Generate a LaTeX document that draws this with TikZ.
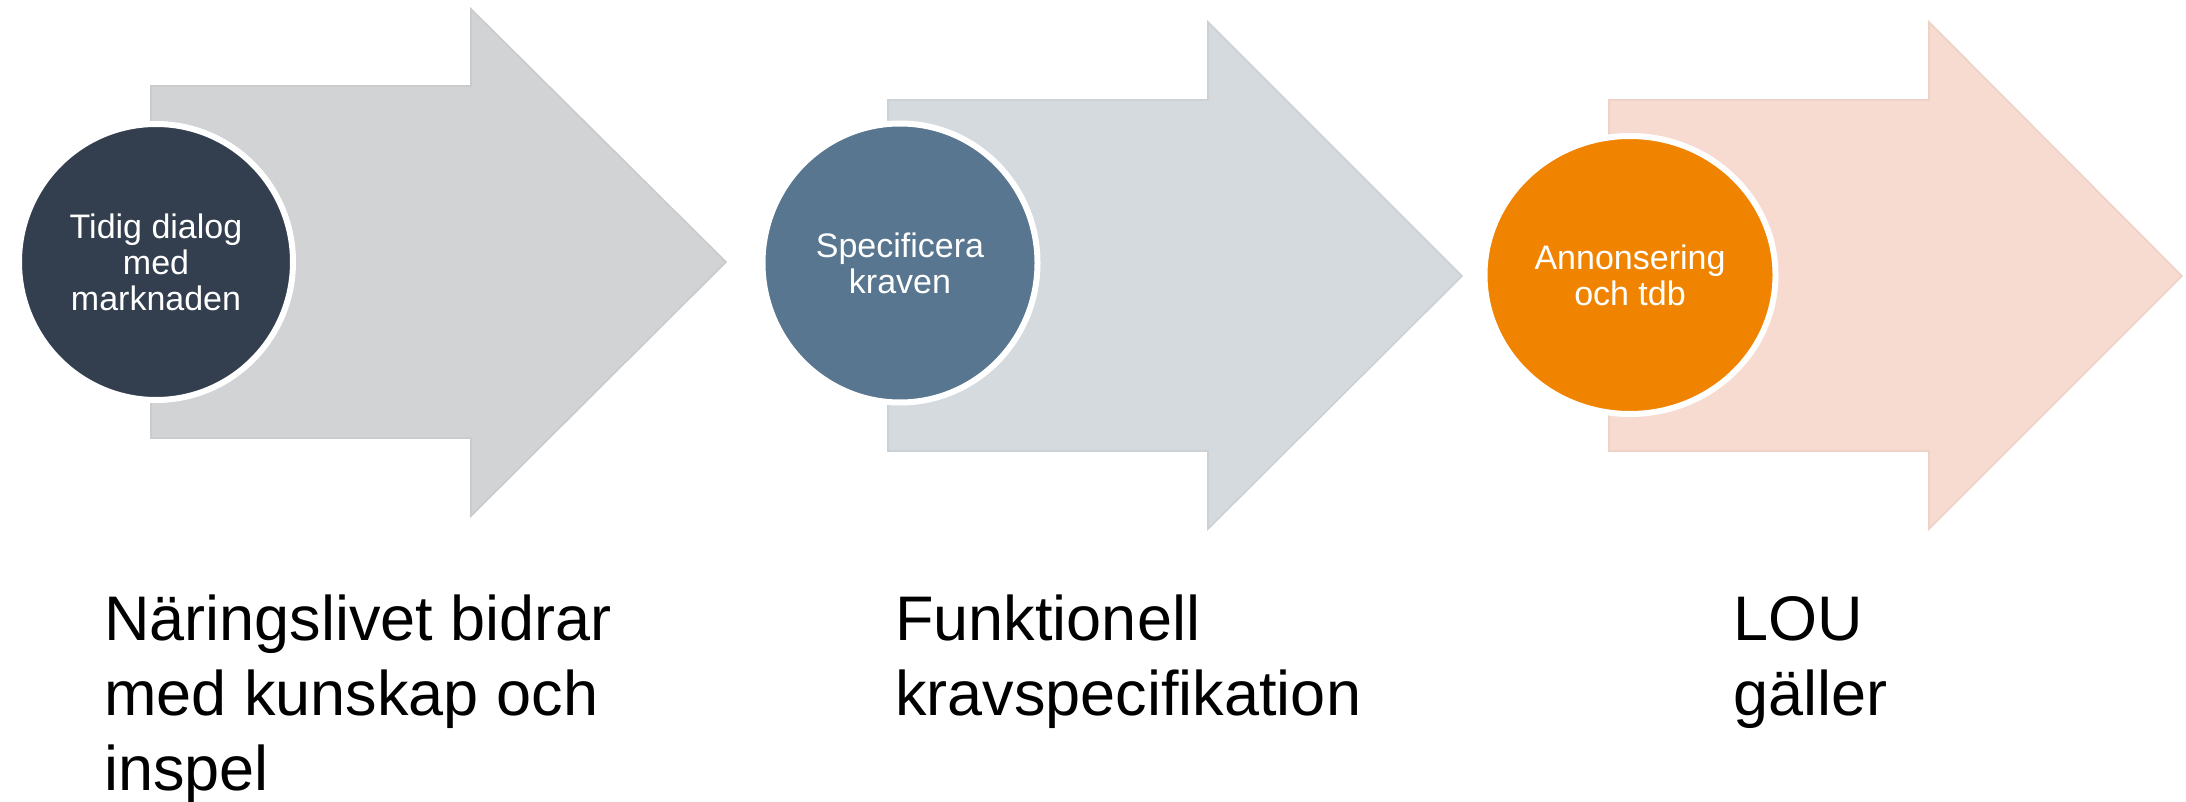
\documentclass[tikz,border=0pt]{standalone}
\usepackage{fontspec}
\setmainfont{Liberation Sans}
\usetikzlibrary{shapes.geometric}
\definecolor{slate}{RGB}{51,63,79}
\definecolor{steel}{RGB}{88,118,143}
\definecolor{ochre}{RGB}{240,132,0}
\definecolor{greyarrow}{RGB}{209,211,213}
\definecolor{bluearrow}{RGB}{213,218,223}
\definecolor{pinkarrow}{RGB}{248,219,208}
\begin{document}
\begin{tikzpicture}[x=0.5pt,y=-0.5pt,
    arrowbody/.style={line width=0.8pt,line join=miter},
    disc/.style={ellipse,draw=white,line width=3pt,text=white,
        align=center,inner sep=0pt,font=\fontsize{17}{18}\selectfont},
    caption/.style={anchor=base west,align=left,inner sep=0pt,
        font=\fontsize{31.5}{37.5}\selectfont}]
    \useasboundingbox (0,0) rectangle (2186,802);
    % the three arrows
    \draw[arrowbody,fill=greyarrow,draw=greyarrow!96!black] (151,86) -- (471,86)
        -- (471,9) -- (726,262) -- (471,516) -- (471,438) -- (151,438) -- cycle;
    \draw[arrowbody,fill=bluearrow,draw=bluearrow!96!black] (888,100) -- (1208,100)
        -- (1208,22) -- (1462,276) -- (1208,529) -- (1208,451) -- (888,451) -- cycle;
    \draw[arrowbody,fill=pinkarrow,draw=pinkarrow!96!black] (1609,100) -- (1929,100)
        -- (1929,22) -- (2182,276) -- (1929,529) -- (1929,451) -- (1609,451) -- cycle;
    % discs
    \node[disc,fill=slate,minimum width=137pt,minimum height=138pt]
        (dialog) at (156,262) {Tidig dialog\\med\\marknaden};
    \node[disc,fill=steel,minimum width=137.5pt,minimum height=139.5pt]
        (krav) at (900,263) {Specificera\\kraven};
    \node[disc,fill=ochre,minimum width=145.5pt,minimum height=139pt]
        (annons) at (1630,275) {Annonsering\\och tdb};
    % captions (base = last line)
    \node[caption] (inspel) at (104,790) {Näringslivet bidrar\\med kunskap och\\inspel};
    \node[caption] (kravspec) at (895,715) {Funktionell\\kravspecifikation};
    \node[caption] (lou) at (1733,715) {LOU\\gäller};
\end{tikzpicture}
\end{document}
